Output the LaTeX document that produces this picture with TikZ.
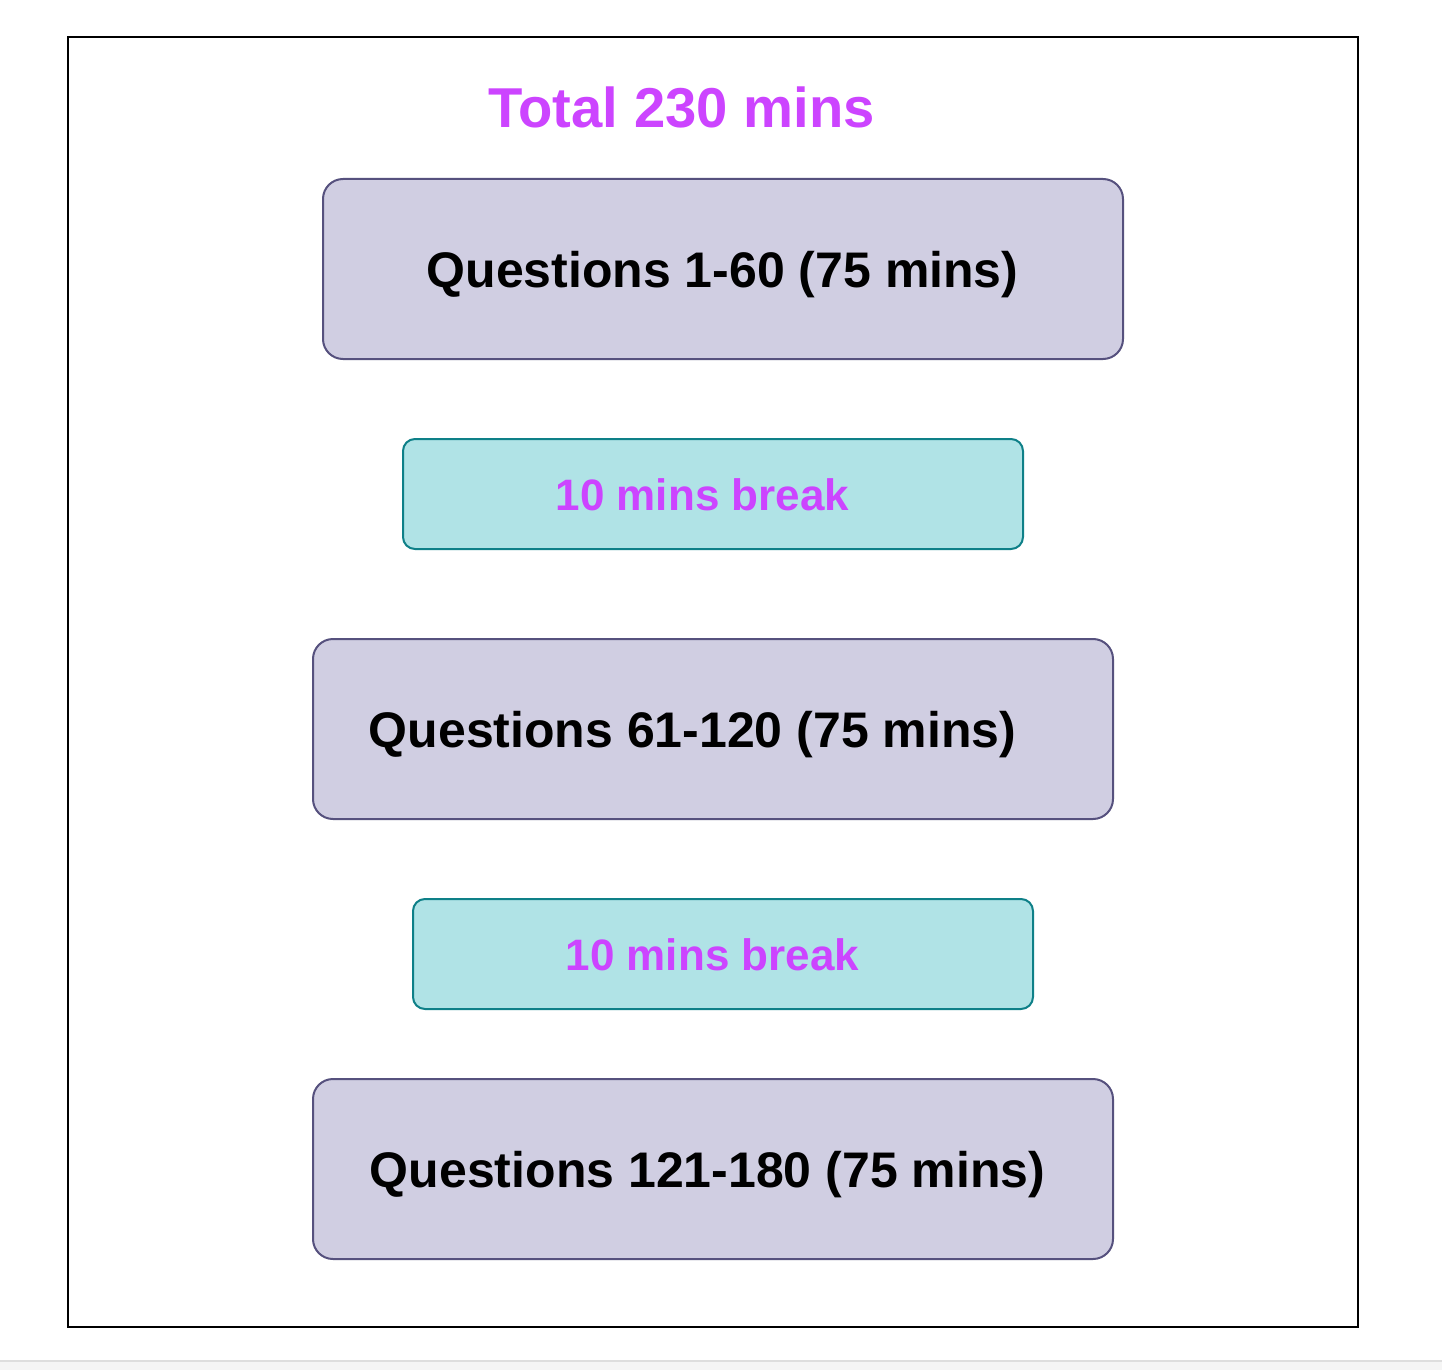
\documentclass[tikz,border=0pt]{standalone}
\usepackage{fontspec}
\setmainfont{Liberation Sans}
\definecolor{qfill}{HTML}{D0CEE2}
\definecolor{qline}{HTML}{56517E}
\definecolor{bfill}{HTML}{B0E3E6}
\definecolor{bline}{HTML}{0E8088}
\definecolor{mag}{HTML}{CC44FF}
\definecolor{band}{HTML}{F5F5F5}
\definecolor{bandline}{HTML}{DEDEDE}
\begin{document}
\begin{tikzpicture}[x=0.5pt,y=-0.5pt,
  qbox/.style={draw=qline, fill=qfill, line width=1pt, rounded corners=10pt},
  bbox/.style={draw=bline, fill=bfill, line width=1pt, rounded corners=6pt},
  qtext/.style={anchor=base, inner sep=0pt, font=\bfseries\fontsize{25}{30}\selectfont, text=black},
  btext/.style={anchor=base, inner sep=0pt, font=\bfseries\fontsize{22}{26}\selectfont, text=mag},
  ttext/.style={anchor=base, inner sep=0pt, font=\bfseries\fontsize{28.1}{33}\selectfont, text=mag}]
\useasboundingbox (0,0) rectangle (1442,1370);
\fill[white] (0,0) rectangle (1442,1370);
\fill[band] (0,1360) rectangle (1442,1370);
\draw[bandline, line width=1pt] (0,1360.5) -- (1442,1360.5);
\draw[black, line width=1pt] (68,37) rectangle (1358,1327);
\node[ttext] (title) at (681.5,127.5) {Total 230 mins};
\draw[qbox] (323,179) rectangle (1123,359);
\node[qtext] (q1) at (722.5,287) {Questions 1-60 (75 mins)};
\draw[bbox] (403,439) rectangle (1023,549);
\node[btext] (b1) at (702.5,510) {10 mins break};
\draw[qbox] (313,639) rectangle (1113,819);
\node[qtext] (q2) at (692.5,747) {Questions 61-120 (75 mins)};
\draw[bbox] (413,899) rectangle (1033,1009);
\node[btext] (b2) at (712.5,970) {10 mins break};
\draw[qbox] (313,1079) rectangle (1113,1259);
\node[qtext] (q3) at (707.5,1187) {Questions 121-180 (75 mins)};
\end{tikzpicture}
\end{document}
